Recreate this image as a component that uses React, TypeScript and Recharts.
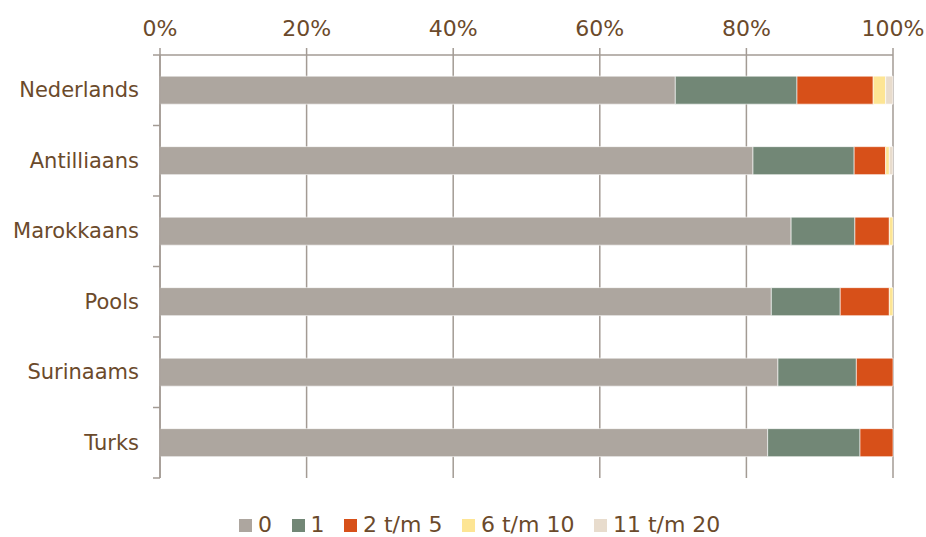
import React from 'react';
import { BarChart, Bar, XAxis, YAxis, CartesianGrid } from 'recharts';

const groups = ['Nederlands', 'Antilliaans', 'Marokkaans', 'Pools', 'Surinaams', 'Turks'];
const zero = [70.3, 80.9, 86.1, 83.4, 84.3, 82.9];
const one = [16.6, 13.8, 8.7, 9.4, 10.7, 12.6];
const twoToFive = [10.4, 4.3, 4.7, 6.7, 5.0, 4.5];
const sixToTen = [1.7, 0.5, 0.5, 0.5, 0, 0];
const elevenToTwenty = [1.0, 0.5, 0, 0, 0, 0];

const seriesNames = ['0', '1', '2 t/m 5', '6 t/m 10', '11 t/m 20'];
const seriesColors = ['#ada69f', '#728776', '#d75019', '#fde594', '#e8dccd'];
const xTicks = [0, 0.2, 0.4, 0.6, 0.8, 1];
const xTickLabels = ['0%', '20%', '40%', '60%', '80%', '100%'];

const data = groups.map((g, i) => ({
  group: g,
  s0: zero[i],
  s1: one[i],
  s2: twoToFive[i],
  s3: sixToTen[i],
  s4: elevenToTwenty[i],
}));

const W = 926;
const H = 537;
const xAxisHeight = 40;
const margin = { top: 55 - xAxisHeight, right: 33, bottom: 59, left: 0 };
const yAxisWidth = 160;
const band = (H - 55 - margin.bottom) / groups.length;

const textColor = '#6b4a2b';
const axisColor = '#a39b94';
const font = '"DejaVu Sans", Verdana, sans-serif';

const CategoryTick: React.FC<any> = ({ x, y, payload, index }) => {
  const ax = x + 21;
  return (
    <g>
      <text x={x} y={y} textAnchor="end" dominantBaseline="central" fill={textColor} fontSize={21} fontFamily={font}>
        {payload.value}
      </text>
      <line x1={ax - 7} x2={ax} y1={y - band / 2} y2={y - band / 2} stroke={axisColor} strokeWidth={1.5} />
      {index === groups.length - 1 && (
        <line x1={ax - 7} x2={ax} y1={y + band / 2} y2={y + band / 2} stroke={axisColor} strokeWidth={1.5} />
      )}
    </g>
  );
};

const LegendBox: React.FC = () => (
  <div
    style={{
      position: 'absolute',
      left: 239,
      top: 514,
      display: 'flex',
      alignItems: 'center',
      fontFamily: font,
      fontSize: 22,
      color: textColor,
      lineHeight: '22px',
      whiteSpace: 'nowrap',
    }}
  >
    {seriesNames.map((n, i) => (
      <div key={n} style={{ display: 'flex', alignItems: 'center', marginRight: 19.5 }}>
        <span style={{ width: 13, height: 13, background: seriesColors[i], display: 'inline-block', marginRight: 6 }} />
        <span>{n}</span>
      </div>
    ))}
  </div>
);

export default function App() {
  return (
    <div style={{ position: 'absolute', left: 0, top: 0, width: W, height: H, background: '#fff' }}>
      <BarChart width={W} height={H} data={data} layout="vertical" stackOffset="expand" margin={margin} barCategoryGap="30%">
        <CartesianGrid horizontal={false} stroke={axisColor} strokeWidth={1.5} />
        <XAxis
          type="number"
          orientation="top"
          height={xAxisHeight}
          domain={[0, 1]}
          ticks={xTicks}
          tickFormatter={(v: number) => xTickLabels[xTicks.indexOf(v)] ?? ''}
          axisLine={{ stroke: axisColor, strokeWidth: 1.5 }}
          tickLine={{ stroke: axisColor, strokeWidth: 1.5 }}
          tickSize={7}
          tickMargin={12}
          tick={{ fill: textColor, fontSize: 22, fontFamily: font }}
          interval={0}
        />
        <YAxis
          type="category"
          dataKey="group"
          width={yAxisWidth}
          axisLine={{ stroke: axisColor, strokeWidth: 1.5 }}
          tickLine={false}
          tickSize={7}
          tickMargin={14}
          tick={<CategoryTick />}
          interval={0}
        />
        {['s0', 's1', 's2', 's3', 's4'].map((k, i) => (
          <Bar key={k} dataKey={k} name={seriesNames[i]} stackId="a" fill={seriesColors[i]} stroke="#ffffff" strokeWidth={0.6} isAnimationActive={false} />
        ))}
      </BarChart>
      <LegendBox />
    </div>
  );
}
